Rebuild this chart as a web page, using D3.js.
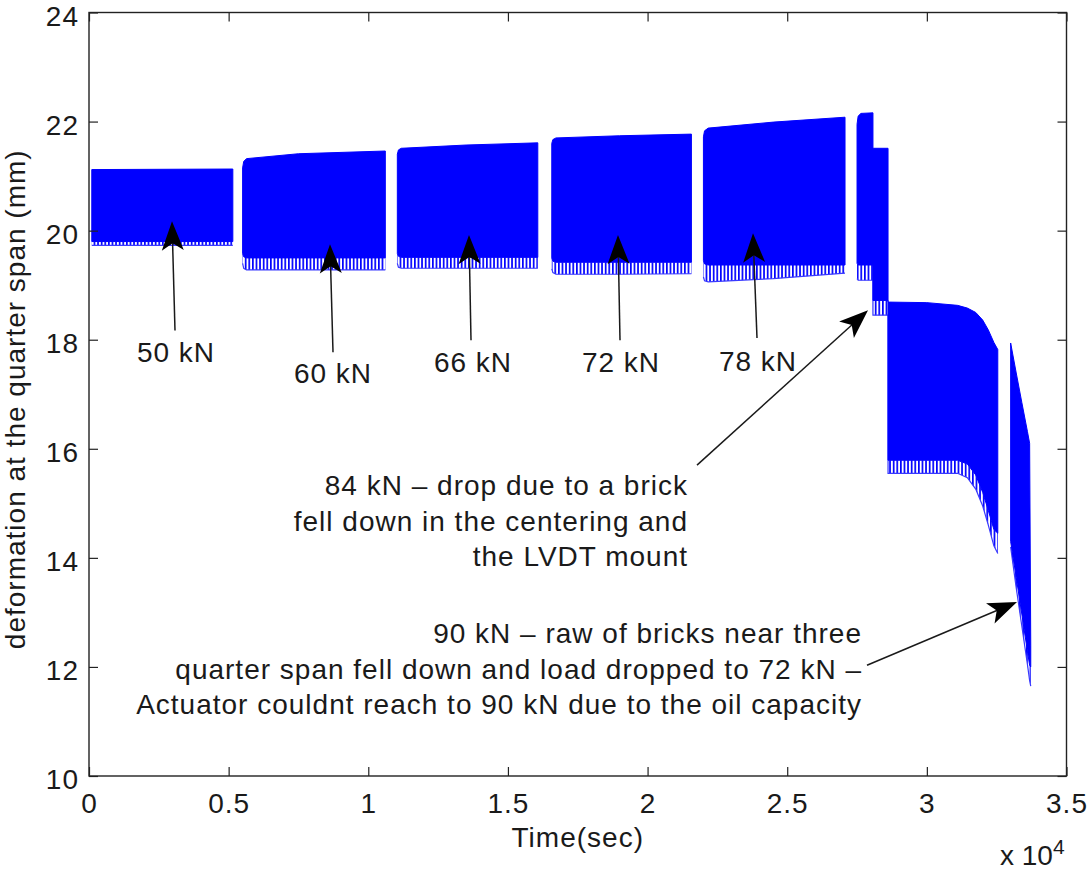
<!DOCTYPE html>
<html>
<head>
<meta charset="utf-8">
<script src="https://cdn.jsdelivr.net/npm/d3@7"></script>
<style>
  body { margin: 0; background: #fff; }
  text { font-family: "Liberation Sans", Arial, Helvetica, sans-serif; fill: #1a1a1a; }
</style>
</head>
<body>
<svg id="chart" width="1091" height="872"></svg>
<script>
// envelope of each loading stage
// [time (s), top (mm), bottom of solid band (mm), bottom of loose cycles (mm)]
const stage50 = [[100, 21.12, 19.80, 19.73], [5150, 21.13, 19.80, 19.73]]
const stage60 = [[5500, 21.15, 19.58, 19.40], [5540, 21.27, 19.52, 19.31], [5640, 21.32, 19.50, 19.28], [7500, 21.41, 19.50, 19.28], [10610, 21.46, 19.50, 19.28]]
const stage66 = [[11040, 21.40, 19.58, 19.40], [11080, 21.48, 19.53, 19.33], [11180, 21.51, 19.51, 19.31], [13500, 21.57, 19.51, 19.31], [16070, 21.61, 19.51, 19.31]]
const stage72 = [[16570, 21.60, 19.50, 19.30], [16610, 21.67, 19.44, 19.23], [16720, 21.70, 19.42, 19.20], [19000, 21.74, 19.42, 19.20], [21570, 21.77, 19.42, 19.21]]
const stage78 = [[22000, 21.72, 19.45, 19.15], [22040, 21.83, 19.39, 19.08], [22170, 21.88, 19.37, 19.06], [24500, 21.99, 19.37, 19.12], [27070, 22.08, 19.37, 19.22]]
const stage84 = [
  [27500, 21.95, 19.40, 19.12], [27540, 22.10, 19.37, 19.09], [27640, 22.15, 19.37, 19.09], [28070, 22.16, 19.37, 19.09],
  [28070, 21.51, 18.72, 18.45], [28610, 21.51, 18.72, 18.45],
  [28610, 18.69, 15.79, 15.55], [30000, 18.68, 15.79, 15.55], [31100, 18.63, 15.79, 15.55],
  [31450, 18.58, 15.72, 15.47], [31750, 18.50, 15.52, 15.26], [32000, 18.36, 15.20, 14.95],
  [32200, 18.18, 14.87, 14.60], [32400, 17.95, 14.52, 14.22], [32540, 17.82, 14.45, 14.08]
]
const stage90 = [
  [33000, 17.94, 14.30, 14.20], [33200, 17.39, 13.64, 13.45], [33400, 16.85, 12.97, 12.75],
  [33600, 16.32, 12.29, 12.05], [33680, 16.10, 12.03, 11.75], [33720, 12.40, 12.00, 11.65]
]
const stages = [stage50, stage60, stage66, stage72, stage78, stage84, stage90]

const xTicks = [0, 5000, 10000, 15000, 20000, 25000, 30000, 35000]
const xTickLabels = ['0', '0.5', '1', '1.5', '2', '2.5', '3', '3.5']
const yTicks = [10, 12, 14, 16, 18, 20, 22, 24]

// load labels under each stage: [text, time, mm]
const loadLabels = [
  ['50 kN', 3115, 17.59], ['60 kN', 8737, 17.20], ['66 kN', 13749, 17.40],
  ['72 kN', 19049, 17.40], ['78 kN', 23954, 17.42]
]
// arrows: [from time, from mm, to time, to mm]
const arrows = [
  [3079, 18.17, 2972, 20.17], [8737, 17.77, 8629, 19.75], [13678, 17.99, 13606, 19.92],
  [19013, 17.99, 18941, 19.92], [23918, 18.03, 23775, 19.95],
  [21770, 15.70, 27893, 18.54], [27857, 12.03, 33228, 13.19]
]
const note84 = ['84 kN \u2013 drop due to a brick', 'fell down in the centering and', 'the LVDT mount']
const note90 = ['90 kN \u2013 raw of bricks near three', 'quarter span fell down and load dropped to 72 kN \u2013', 'Actuator couldnt reach to 90 kN due to the oil capacity']
const note84At = [21448, 15.15]
const note90At = [27678, 12.43]

const svg = d3.select('#chart')

const x = d3.scaleLinear().domain([0, 35000]).range([89, 1066.5])
const y = d3.scaleLinear().domain([10, 24]).range([776, 12.5])

// loose cycles at the bottom of each band look like thin stripes
svg.append('defs').append('pattern')
  .attr('id', 'rag')
  .attr('patternUnits', 'userSpaceOnUse')
  .attr('width', 3.6)
  .attr('height', 10)
  .append('rect')
  .attr('width', 1.7)
  .attr('height', 10)
  .attr('fill', '#0000ff')

const solid = d3.area()
  .x(d => x(d[0]))
  .y1(d => y(d[1]))
  .y0(d => y(d[2]))

const loose = d3.area()
  .x(d => x(d[0]))
  .y1(d => y(d[2]))
  .y0(d => y(d[3]))

const looseEdge = d3.line()
  .x(d => x(d[0]))
  .y(d => y(d[3]))

const bands = svg.append('g')
bands.selectAll('.loose')
  .data(stages)
  .enter()
  .append('path')
  .attr('class', 'loose')
  .attr('d', loose)
  .attr('fill', 'url(#rag)')
bands.selectAll('.edge')
  .data(stages)
  .enter()
  .append('path')
  .attr('class', 'edge')
  .attr('d', looseEdge)
  .attr('fill', 'none')
  .attr('stroke', '#3a3aff')
  .attr('stroke-width', 1.2)
bands.selectAll('.solid')
  .data(stages)
  .enter()
  .append('path')
  .attr('class', 'solid')
  .attr('d', solid)
  .attr('fill', '#0000ff')
  .attr('stroke', '#0000ff')
  .attr('stroke-width', 1)

// axes, matlab style: ticks inside, box all round
const fontSize = 28
const axisStyle = g => {
  g.select('.domain').remove()
  g.selectAll('line').attr('stroke', '#222').attr('stroke-width', 1.2)
  g.selectAll('text')
    .style('font-size', fontSize + 'px')
    .style('letter-spacing', '1px')
    .attr('fill', '#1a1a1a')
}

svg.append('g')
  .attr('transform', `translate(0,${y(10)})`)
  .call(d3.axisBottom(x).tickValues(xTicks).tickFormat((d, i) => xTickLabels[i])
    .tickSizeInner(-9).tickSizeOuter(0).tickPadding(17))
  .call(axisStyle)

svg.append('g')
  .attr('transform', `translate(0,${y(24)})`)
  .call(d3.axisTop(x).tickValues(xTicks).tickFormat('').tickSizeInner(-9).tickSizeOuter(0))
  .call(axisStyle)

svg.append('g')
  .attr('transform', `translate(${x(0)},0)`)
  .call(d3.axisLeft(y).tickValues(yTicks).tickSizeInner(-9).tickSizeOuter(0).tickPadding(10))
  .call(axisStyle)
  .selectAll('text')
  .attr('dy', '0.45em')

svg.append('g')
  .attr('transform', `translate(${x(35000)},0)`)
  .call(d3.axisRight(y).tickValues(yTicks).tickFormat('').tickSizeInner(-9).tickSizeOuter(0))
  .call(axisStyle)

svg.append('rect')
  .attr('x', x(0))
  .attr('y', y(24))
  .attr('width', x(35000) - x(0))
  .attr('height', y(10) - y(24))
  .attr('fill', 'none')
  .attr('stroke', '#222')
  .attr('stroke-width', 1.4)

// axis titles
svg.append('text')
  .attr('x', (x(0) + x(35000)) / 2)
  .attr('y', 847)
  .attr('text-anchor', 'middle')
  .style('font-size', fontSize + 'px')
  .style('letter-spacing', '1px')
  .text('Time(sec)')

svg.append('text')
  .attr('transform', `translate(25,${(y(10) + y(24)) / 2 + 5}) rotate(-90)`)
  .attr('text-anchor', 'middle')
  .style('font-size', fontSize + 'px')
  .style('letter-spacing', '1px')
  .text('deformation at the quarter span (mm)')

const expo = svg.append('text')
  .attr('x', 1000)
  .attr('y', 865)
  .style('font-size', fontSize + 'px')
expo.append('tspan').text('x 10')
expo.append('tspan').attr('dy', -11).style('font-size', '21px').text('4')

// annotations
svg.selectAll('.load')
  .data(loadLabels)
  .enter()
  .append('text')
  .attr('class', 'load')
  .attr('x', d => x(d[1]))
  .attr('y', d => y(d[2]))
  .attr('text-anchor', 'middle')
  .style('font-size', fontSize + 'px')
  .style('letter-spacing', '1px')
  .text(d => d[0])

const heads = svg.append('g')
arrows.forEach(a => {
  const x1 = x(a[0]), y1 = y(a[1]), x2 = x(a[2]), y2 = y(a[3])
  const ang = Math.atan2(y2 - y1, x2 - x1)
  heads.append('line')
    .attr('x1', x1).attr('y1', y1)
    .attr('x2', x2 - 20 * Math.cos(ang))
    .attr('y2', y2 - 20 * Math.sin(ang))
    .attr('stroke', '#1a1a1a')
    .attr('stroke-width', 1.5)
  heads.append('path')
    .attr('d', 'M0,0L-29,-11L-22,0L-29,11Z')
    .attr('transform', `translate(${x2},${y2}) rotate(${ang * 180 / Math.PI})`)
    .attr('fill', '#000')
})

const drawNote = (lines, at) => {
  svg.append('g')
    .selectAll('text')
    .data(lines)
    .enter()
    .append('text')
    .attr('x', x(at[0]))
    .attr('y', (d, i) => y(at[1]) + i * 35.5)
    .attr('text-anchor', 'end')
    .style('font-size', fontSize + 'px')
    .style('letter-spacing', '1px')
    .text(d => d)
}
drawNote(note84, note84At)
drawNote(note90, note90At)
</script>
</body>
</html>
